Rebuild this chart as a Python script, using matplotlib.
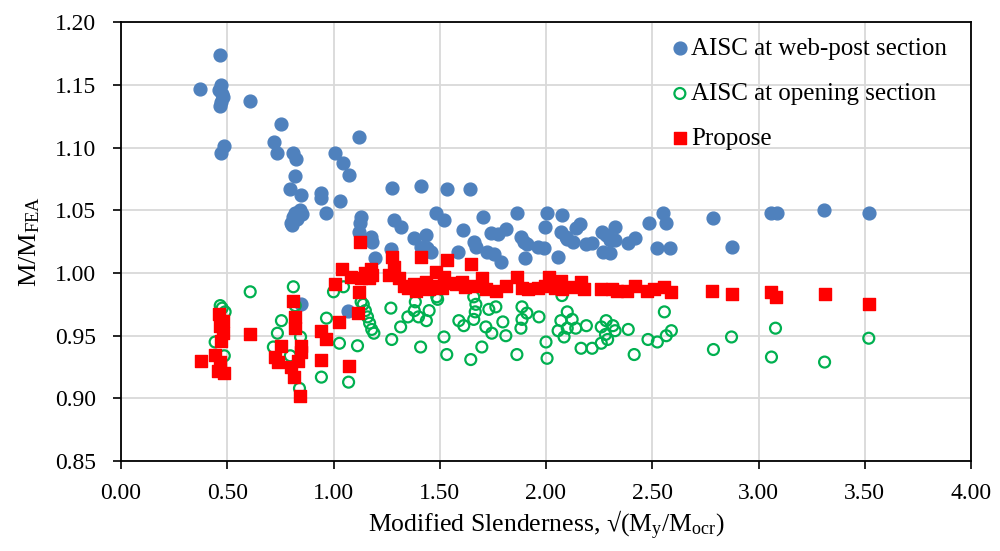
import matplotlib.pyplot as plt
import numpy as np

plt.rcParams['font.family'] = ['Liberation Serif', 'DejaVu Serif']
plt.rcParams['mathtext.fontset'] = 'custom'
plt.rcParams['mathtext.rm'] = 'Liberation Serif'
plt.rcParams['mathtext.it'] = 'Liberation Serif:italic'

# AISC at web-post section
web_x = [0.373, 0.467, 0.462, 0.470, 0.475, 0.480, 0.470, 0.468, 0.486, 0.472,
         0.608, 0.755, 0.720, 0.736, 0.810, 0.825, 0.820, 0.797, 0.845, 0.943,
         0.943, 1.030, 0.967, 1.005, 1.043, 1.075, 1.118, 0.800, 0.810, 0.820,
         0.830, 0.840, 0.850, 0.805, 1.130, 1.125, 1.274, 1.410, 1.533, 1.642,
         1.480, 1.519, 1.703, 1.863, 1.283, 1.316, 1.377, 1.434, 1.410, 1.440,
         1.460, 1.608, 1.585, 1.660, 1.670, 1.720, 1.755, 1.740, 1.774, 1.811,
         1.790, 1.882, 1.896, 1.910, 1.900, 1.962, 1.990, 1.995, 2.005, 1.118,
         1.175, 1.180, 1.193, 1.269, 2.075, 2.057, 2.070, 2.094, 2.100, 2.127,
         2.140, 2.160, 2.190, 2.217, 2.264, 2.283, 2.300, 2.325, 2.325, 2.270,
         2.300, 2.387, 2.420, 2.486, 2.552, 2.566, 2.520, 2.585, 2.788, 2.873,
         3.060, 3.085, 3.310, 3.519, 0.845, 1.070]
web_y = [1.147, 1.174, 1.146, 1.150, 1.143, 1.140, 1.136, 1.133, 1.101, 1.096,
         1.137, 1.119, 1.104, 1.096, 1.096, 1.091, 1.077, 1.067, 1.062, 1.064,
         1.060, 1.057, 1.048, 1.096, 1.088, 1.078, 1.108, 1.040, 1.045, 1.048,
         1.043, 1.050, 1.047, 1.038, 1.045, 1.040, 1.068, 1.069, 1.067, 1.067,
         1.048, 1.042, 1.045, 1.048, 1.042, 1.037, 1.028, 1.030, 1.021, 1.020,
         1.017, 1.034, 1.017, 1.025, 1.021, 1.017, 1.015, 1.032, 1.031, 1.035,
         1.009, 1.029, 1.025, 1.023, 1.012, 1.021, 1.020, 1.037, 1.048, 1.033,
         1.029, 1.025, 1.012, 1.019, 1.046, 1.013, 1.033, 1.029, 1.027, 1.025,
         1.036, 1.039, 1.023, 1.024, 1.033, 1.030, 1.026, 1.026, 1.037, 1.017,
         1.016, 1.024, 1.028, 1.040, 1.048, 1.040, 1.020, 1.020, 1.044, 1.021,
         1.048, 1.048, 1.050, 1.048, 0.975, 0.970]

# AISC at opening section
open_x = [0.467, 0.476, 0.490, 0.443, 0.486, 0.608, 0.811, 0.820, 0.755, 0.736,
          0.717, 0.797, 0.845, 0.840, 0.967, 1.028, 1.113, 0.943, 1.071, 1.000,
          1.047, 1.130, 1.140, 1.150, 1.160, 1.170, 1.180, 1.190, 1.270, 1.316,
          1.274, 1.350, 1.380, 1.385, 1.400, 1.437, 1.450, 1.410, 1.520, 1.533,
          1.486, 1.490, 1.646, 1.590, 1.613, 1.660, 1.670, 1.667, 1.660, 1.717,
          1.745, 1.811, 1.698, 1.731, 1.764, 1.797, 1.863, 1.887, 1.910, 1.887,
          1.882, 1.967, 2.000, 2.005, 2.075, 2.100, 2.123, 2.070, 2.057, 2.085,
          2.100, 2.140, 2.190, 2.165, 2.217, 2.260, 2.283, 2.315, 2.325, 2.280,
          2.290, 2.260, 2.387, 2.415, 2.480, 2.524, 2.566, 2.590, 2.557, 2.788,
          2.873, 3.080, 3.061, 3.311, 3.519]
open_y = [0.974, 0.972, 0.969, 0.945, 0.934, 0.985, 0.989, 0.974, 0.962, 0.952,
          0.941, 0.934, 0.949, 0.908, 0.964, 0.944, 0.942, 0.917, 0.913, 0.985,
          0.989, 0.977, 0.975, 0.970, 0.965, 0.960, 0.955, 0.952, 0.972, 0.957,
          0.947, 0.965, 0.970, 0.977, 0.965, 0.962, 0.970, 0.941, 0.949, 0.935,
          0.981, 0.979, 0.931, 0.962, 0.958, 0.981, 0.975, 0.969, 0.963, 0.957,
          0.952, 0.950, 0.941, 0.971, 0.973, 0.961, 0.935, 0.973, 0.968, 0.963,
          0.956, 0.965, 0.945, 0.932, 0.982, 0.969, 0.963, 0.962, 0.954, 0.949,
          0.956, 0.956, 0.958, 0.940, 0.940, 0.957, 0.962, 0.958, 0.954, 0.951,
          0.947, 0.944, 0.955, 0.935, 0.947, 0.945, 0.950, 0.954, 0.969, 0.939,
          0.949, 0.956, 0.933, 0.929, 0.948]

# Propose
prop_x = [0.377, 0.462, 0.467, 0.481, 0.472, 0.443, 0.467, 0.458, 0.486, 0.480,
          0.608, 0.811, 0.820, 0.820, 0.755, 0.726, 0.740, 0.845, 0.849, 0.835,
          0.802, 0.816, 0.840, 0.943, 0.967, 0.943, 1.071, 1.028, 1.005, 1.042,
          1.080, 1.118, 1.113, 1.123, 1.130, 1.150, 1.175, 1.165, 1.180, 1.274,
          1.283, 1.260, 1.307, 1.410, 1.377, 1.434, 1.480, 1.533, 1.520, 1.480,
          1.510, 1.646, 1.604, 1.575, 1.698, 1.660, 1.717, 1.764, 1.811, 1.863,
          1.887, 1.915, 1.962, 2.014, 1.995, 2.040, 2.070, 2.075, 2.123, 2.165,
          2.180, 2.260, 2.310, 2.335, 2.382, 2.420, 2.476, 2.510, 2.557, 2.590,
          2.783, 2.873, 3.061, 3.080, 3.311, 3.519, 1.330, 1.350, 1.390, 1.450,
          1.550, 1.620]
prop_y = [0.930, 0.967, 0.958, 0.952, 0.946, 0.935, 0.929, 0.922, 0.920, 0.962,
          0.951, 0.978, 0.965, 0.956, 0.942, 0.933, 0.929, 0.942, 0.937, 0.930,
          0.925, 0.917, 0.902, 0.954, 0.947, 0.931, 0.926, 0.961, 0.991, 1.003,
          0.997, 0.985, 0.968, 1.025, 0.996, 1.000, 1.003, 0.996, 0.998, 1.013,
          1.005, 0.998, 0.996, 1.013, 0.991, 0.993, 1.001, 1.010, 0.997, 0.990,
          0.988, 1.007, 0.993, 0.991, 0.996, 0.990, 0.987, 0.986, 0.990, 0.997,
          0.988, 0.987, 0.988, 0.997, 0.990, 0.988, 0.994, 0.987, 0.989, 0.993,
          0.987, 0.987, 0.987, 0.986, 0.986, 0.990, 0.986, 0.987, 0.989, 0.985,
          0.986, 0.983, 0.985, 0.981, 0.983, 0.975, 0.990, 0.988, 0.986, 0.987,
          0.992, 0.989]

fig = plt.figure(figsize=(10, 5.51), dpi=100)
ax = fig.add_axes([0.121, 0.163, 0.850, 0.797])

ax.scatter(web_x, web_y, s=85, color='#4F81BD', label='AISC at web-post section', zorder=3)
ax.scatter(open_x, open_y, s=62, facecolors='none', edgecolors='#00B050', linewidths=1.6,
           label='AISC at opening section', zorder=3)
ax.scatter(prop_x, prop_y, s=82, marker='s', color='#FF0000', label='Propose', zorder=4)

ax.set_xlim(0, 4)
ax.set_ylim(0.85, 1.20)
ax.set_xticks(np.arange(0, 4.01, 0.5))
ax.set_yticks(np.arange(0.85, 1.201, 0.05))
ax.xaxis.set_major_formatter(plt.FormatStrFormatter('%.2f'))
ax.yaxis.set_major_formatter(plt.FormatStrFormatter('%.2f'))
ax.tick_params(labelsize=17, direction='out', length=6, width=1.2, colors='black')
ax.tick_params(axis='y', pad=12)
ax.tick_params(axis='x', pad=10)
ax.grid(True, color='#D9D9D9', linewidth=1.3, zorder=0)
ax.set_axisbelow(True)
for sp in ax.spines.values():
    sp.set_linewidth(1.3)

ax.set_xlabel('Modified Slenderness, \u221a(M$_{\\mathrm{y}}$/M$_{\\mathrm{ocr}}$)', fontsize=18.5, labelpad=3)
ax.set_ylabel(r'M/M$_{\mathrm{FEA}}$', fontsize=19, labelpad=9)

ax.legend(loc='upper right', bbox_to_anchor=(0.99, 1.0), frameon=False, fontsize=18,
          handletextpad=0.1, labelspacing=0.9, borderaxespad=0.22, markerscale=1.0,
          handlelength=0.7)

fig.savefig('out.png', dpi=100)
